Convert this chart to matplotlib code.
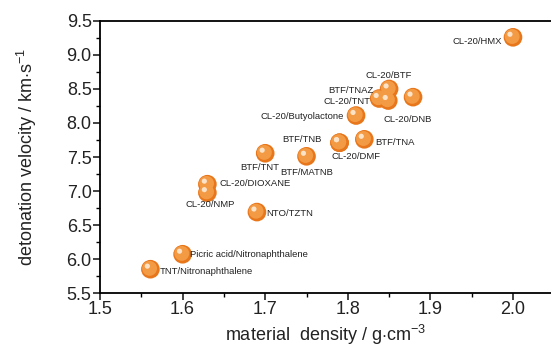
import matplotlib
matplotlib.use("Agg")
import matplotlib.pyplot as plt
from matplotlib.ticker import MultipleLocator, FormatStrFormatter
from matplotlib.transforms import ScaledTranslation

# ----------------------- data -----------------------
names = [
    "CL-20/HMX", "CL-20/BTF", "BTF/TNAZ", "CL-20/TNT", "CL-20/DNB",
    "CL-20/Butyolactone", "BTF/TNB", "BTF/TNA", "CL-20/DMF", "BTF/TNT",
    "BTF/MATNB", "CL-20/DIOXANE", "CL-20/NMP", "NTO/TZTN",
    "Picric acid/Nitronaphthalene", "TNT/Nitronaphthalene",
]
density = [2.00, 1.85, 1.838, 1.849, 1.879, 1.81, 1.79, 1.82, 1.79, 1.70,
           1.75, 1.63, 1.63, 1.69, 1.60, 1.561]
velocity = [9.26, 8.50, 8.36, 8.33, 8.38, 8.11, 7.71, 7.76, 7.71, 7.555,
            7.51, 7.10, 6.975, 6.69, 6.07, 5.85]

# label offsets in points (dx, dy, ha)
label_pos = {
    "CL-20/HMX": (-8, -3, "right"),
    "CL-20/BTF": (0, 10, "center"),
    "BTF/TNAZ": (-4, 6, "right"),
    "CL-20/TNT": (-13, -1, "right"),
    "CL-20/DNB": (-4, -16, "center"),
    "CL-20/Butyolactone": (-9, -1, "right"),
    "BTF/TNB": (-13, 2, "right"),
    "BTF/TNA": (8, -2.5, "left"),
    "CL-20/DMF": (12, -10, "center"),
    "BTF/TNT": (-4, -10.5, "center"),
    "BTF/MATNB": (0, -12, "center"),
    "CL-20/DIOXANE": (8.5, 0.5, "left"),
    "CL-20/NMP": (2, -8.5, "center"),
    "NTO/TZTN": (7, -1, "left"),
    "Picric acid/Nitronaphthalene": (5.5, 0, "left"),
    "TNT/Nitronaphthalene": (7, -2, "left"),
}

plt.rcParams["font.family"] = ["Liberation Sans", "DejaVu Sans"]
plt.rcParams["mathtext.fontset"] = "custom"
plt.rcParams["mathtext.rm"] = "Liberation Sans"
plt.rcParams["mathtext.it"] = "Liberation Sans"

fig = plt.figure(figsize=(5.51, 3.47), dpi=100)
ax = fig.add_axes([0.1815, 0.1556, 0.8185, 0.7839])

# glossy orange spheres: base, shading, highlight
ax.scatter(density, velocity, s=180, color="#E8761A", edgecolor="none", zorder=3)
off1 = ax.transData + ScaledTranslation(-0.6 / 72, 0.6 / 72, fig.dpi_scale_trans)
ax.scatter(density, velocity, s=115, color="#F39A45", edgecolor="none",
           zorder=4, transform=off1)
off2 = ax.transData + ScaledTranslation(-2.2 / 72, 2.2 / 72, fig.dpi_scale_trans)
ax.scatter(density, velocity, s=14, color="#FCE3C8", edgecolor="none",
           zorder=5, transform=off2)

for n, x, y in zip(names, density, velocity):
    dx, dy, ha = label_pos[n]
    ax.annotate(n, (x, y), xytext=(dx, dy), textcoords="offset points",
                ha=ha, va="center", fontsize=6.8, color="#222222", zorder=6)

ax.set_xlim(1.5, 2.046)
ax.set_ylim(5.5, 9.5)
ax.xaxis.set_major_locator(MultipleLocator(0.1))
ax.xaxis.set_minor_locator(MultipleLocator(0.05))
ax.yaxis.set_major_locator(MultipleLocator(0.5))
ax.yaxis.set_minor_locator(MultipleLocator(0.25))
ax.xaxis.set_major_formatter(FormatStrFormatter("%.1f"))
ax.yaxis.set_major_formatter(FormatStrFormatter("%.1f"))
ax.tick_params(which="major", direction="out", length=5, width=1.2,
               labelsize=13, colors="#222222", pad=1)
ax.tick_params(which="minor", direction="out", length=3, width=1.0)
for side in ("left", "bottom", "top"):
    ax.spines[side].set_linewidth(1.3)
ax.spines["right"].set_visible(False)

ax.set_xlabel("material  density / g$\\cdot$cm$^{-3}$", fontsize=13,
              labelpad=3, color="#222222")
ax.set_ylabel("detonation velocity / km$\\cdot$s$^{-1}$", fontsize=13,
              labelpad=20, color="#222222")

fig.savefig("out.png", dpi=100)
